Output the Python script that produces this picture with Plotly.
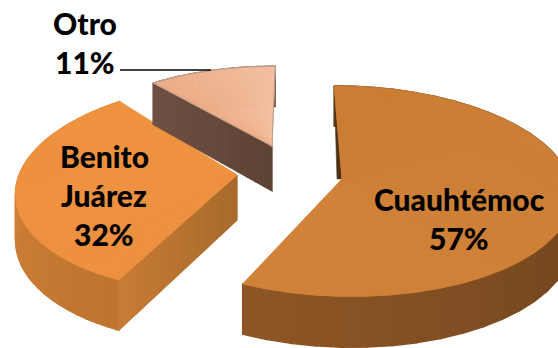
import math
import plotly.graph_objects as go

# Share of each municipality, clockwise from twelve o'clock
categories = ["Cuauhtémoc", "Benito Juárez", "Otro"]
shares = [57, 32, 11]
label_lines = [["Cuauhtémoc"], ["Benito", "Juárez"], ["Otro"]]

W, H = 558, 348
PERSPECTIVE = 0.115
DEPTH = 45

# Placement of each exploded slice and its shading
geometry = [
    dict(ax=342, ay=179, R=228, Rt=104, k=0.085,
         top=("#cb7d33", "#cf8238"), rim=("#5c3a1a", "#6b421d", "#7a4a20", "#8e5626"),
         wall=None, inner="#4e3218",
         label=(459, 199)),
    dict(ax=237, ay=175, R=218, Rt=104, k=-0.14,
         top=("#ed9040", "#ef923f"), rim=("#bd7530", "#e08a3c"),
         wall=("#a96a2c", "#c67c34"), inner=None,
         label=(104, 156)),
    dict(ax=272, ay=146, R=207, Rt=89, k=-0.04,
         top=("#edae88", "#f3bfa0"), rim=("#6b4c3c", "#6b4c3c"),
         wall=("#5d4334", "#6e5042"), inner=None,
         label=(85, 23)),
]


def project(theta, g, drop=0.0):
    """Map an angle on the tilted disc (radians, clockwise from the back) to the page."""
    u, v = math.sin(theta), math.cos(theta)
    s = 1 / (1 + PERSPECTIVE * v)
    dx, dy = g["R"] * u * s, -g["Rt"] * v * s
    return g["ax"] + dx + g["k"] * dy, g["ay"] + dy + drop * DEPTH * s


def hex_mix(stops, t):
    """Blend along a list of hex colour stops."""
    pos = t * (len(stops) - 1)
    i = min(int(pos), len(stops) - 2)
    f = pos - i
    a = [int(stops[i][j:j + 2], 16) for j in (1, 3, 5)]
    b = [int(stops[i + 1][j:j + 2], 16) for j in (1, 3, 5)]
    return "#%02x%02x%02x" % tuple(round(p + (q - p) * f) for p, q in zip(a, b))


fig = go.Figure()


def poly(xs, ys, color, line=None, width=1.3):
    fig.add_trace(go.Scatter(
        x=xs + xs[:1], y=ys + ys[:1], mode="lines", fill="toself", fillcolor=color,
        line=dict(color=line or color, width=width), hoverinfo="skip", showlegend=False))


start = 0.0
spans = []
for value in shares:
    sweep = value / sum(shares) * 2 * math.pi
    spans.append((start, start + sweep))
    start += sweep

STEPS = 36
for g, (a0, a1) in zip(geometry, spans):
    # Outer rim
    for i in range(STEPS):
        t0 = a0 + (a1 - a0) * i / STEPS
        t1 = a0 + (a1 - a0) * (i + 1) / STEPS
        pts = [project(t0, g), project(t1, g), project(t1, g, 1), project(t0, g, 1)]
        poly([p[0] for p in pts], [p[1] for p in pts], hex_mix(g["rim"], i / (STEPS - 1)))

    # Cut face running from the centre to the slice edge
    if g["wall"]:
        ax, ay = g["ax"], g["ay"]
        n = 14
        ex, ey = project(a0, g)
        _, ed = project(a0, g, 1)
        for i in range(n):
            f0, f1 = i / n, (i + 1) / n
            xa, xb = ax + (ex - ax) * f0, ax + (ex - ax) * f1
            ya, yb = ay + (ey - ay) * f0, ay + (ey - ay) * f1
            da, db = DEPTH + (ed - ey - DEPTH) * f0, DEPTH + (ed - ey - DEPTH) * f1
            poly([xa, xb, xb, xa], [ya, yb, yb + db, ya + da],
                 hex_mix(g["wall"], i / (n - 1)))

    # Sliver of the inner face showing behind the far edge
    if g["inner"]:
        bx, by = project(a0, g)
        poly([bx, g["ax"], g["ax"] - 5], [by, g["ay"], g["ay"]], g["inner"], width=0.5)

    # Top surface
    for i in range(STEPS):
        t0 = a0 + (a1 - a0) * i / STEPS
        t1 = a0 + (a1 - a0) * (i + 1) / STEPS
        pts = [(g["ax"], g["ay"]), project(t0, g), project(t1, g)]
        poly([p[0] for p in pts], [p[1] for p in pts], hex_mix(g["top"], i / (STEPS - 1)), width=0.9)

# Outline around the small pale slice
g = geometry[2]
a0, a1 = spans[2]
rim_pts = [project(a0 + (a1 - a0) * i / 24, g) for i in range(25)]
fig.add_trace(go.Scatter(
    x=[g["ax"]] + [p[0] for p in rim_pts] + [g["ax"]],
    y=[g["ay"]] + [p[1] for p in rim_pts] + [g["ay"]],
    mode="lines", line=dict(color="#b79a88", width=1), hoverinfo="skip", showlegend=False))

# Leader line from the outside label to its slice
fig.add_shape(type="line", xref="x", yref="y", x0=120, x1=211, y0=70, y1=70,
              line=dict(color="#000000", width=1.6))

LINE_GAP = 39
for g, lines, value in zip(geometry, label_lines, shares):
    x, y = g["label"]
    for i, text in enumerate(lines + [f"{value}%"]):
        fig.add_annotation(x=x, y=y + i * LINE_GAP, text=text, showarrow=False,
                           xanchor="center", yanchor="middle",
                           font=dict(family="Lato, Carlito, sans-serif", size=30, weight=900, color="#000000"))

fig.update_layout(
    width=W, height=H, margin=dict(l=0, r=0, t=0, b=0),
    paper_bgcolor="#ffffff", plot_bgcolor="#ffffff", showlegend=False,
    xaxis=dict(range=[0, W], visible=False, fixedrange=True),
    yaxis=dict(range=[H, 0], visible=False, fixedrange=True),
)

fig.write_html("out.html")
